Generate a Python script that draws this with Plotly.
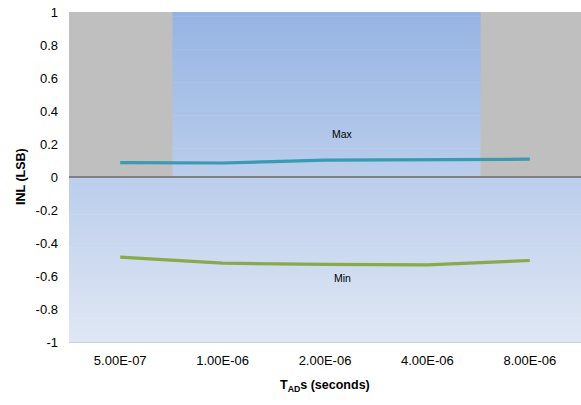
import plotly.graph_objects as go

categories = ["5.00E-07", "1.00E-06", "2.00E-06", "4.00E-06", "8.00E-06"]
max_vals = [0.087, 0.085, 0.102, 0.105, 0.108]
min_vals = [-0.486, -0.522, -0.530, -0.532, -0.506]
y_tickvals = [-1, -0.8, -0.6, -0.4, -0.2, 0, 0.2, 0.4, 0.6, 0.8, 1]
y_ticktext = ["-1", "-0.8", "-0.6", "-0.4", "-0.2", "0", "0.2", "0.4", "0.6", "0.8", "1"]

FONT = "Liberation Sans, Arial, sans-serif"

fig = go.Figure()
fig.add_trace(go.Scatter(x=categories, y=max_vals, mode="lines", name="Max",
                         line=dict(color="#3a9ab2", width=3.2), showlegend=False))
fig.add_trace(go.Scatter(x=categories, y=min_vals, mode="lines", name="Min",
                         line=dict(color="#89aa4a", width=3.2), showlegend=False))

shapes = []
# vertical gradient background of plot area
top = (150, 180, 227)
bot = (223, 231, 244)
n = 80
for i in range(n):
    t = i / (n - 1)
    c = tuple(round(top[k] + (bot[k] - top[k]) * t) for k in range(3))
    y1 = 1 - i / n
    y0 = 1 - (i + 1) / n
    shapes.append(dict(type="rect", xref="paper", yref="paper", x0=0, x1=1,
                       y0=max(0, y0 - 0.002), y1=y1, fillcolor="rgb(%d,%d,%d)" % c,
                       line=dict(width=0), layer="below"))
# grey bands
shapes.append(dict(type="rect", xref="x", yref="y", x0=-0.5, x1=0.51, y0=0, y1=1,
                   fillcolor="#bfbfbf", line=dict(width=0), layer="below"))
shapes.append(dict(type="rect", xref="x", yref="y", x0=3.52, x1=4.5, y0=0, y1=1,
                   fillcolor="#bfbfbf", line=dict(width=0), layer="below"))

fig.update_layout(
    width=581, height=405,
    margin=dict(l=69, r=0, t=12, b=63),
    paper_bgcolor="white", plot_bgcolor="white",
    font=dict(family=FONT, size=13, color="black"),
    shapes=shapes,
    annotations=[
        dict(x=2.17, y=0.26, xref="x", yref="y", text="Max", showarrow=False,
             font=dict(size=10.5, family=FONT, color="black")),
        dict(x=2.17, y=-0.61, xref="x", yref="y", text="Min", showarrow=False,
             font=dict(size=10.5, family=FONT, color="black")),
        dict(x=0.5, y=0, xref="paper", yref="paper", yshift=-44, yanchor="middle",
             xanchor="center", text="<b>T<sub>AD</sub>s (seconds)</b>", showarrow=False,
             font=dict(size=12.5, family=FONT, color="black")),
        dict(x=0, y=0.5, xref="paper", yref="paper", xshift=-48, xanchor="center",
             yanchor="middle", textangle=-90, text="<b>INL (LSB)</b>", showarrow=False,
             font=dict(size=12.5, family=FONT, color="black")),
    ],
    xaxis=dict(type="category", range=[-0.5, 4.5], showgrid=False, ticks="",
               automargin=False,
               showline=True, linecolor="#c9d1de", linewidth=1,
               tickfont=dict(size=13), ticklabelstandoff=6),
    yaxis=dict(range=[-1, 1], tickvals=y_tickvals, ticktext=y_ticktext,
               showgrid=False, ticks="", showline=False, automargin=False,
               zeroline=True, zerolinecolor="#808080", zerolinewidth=2,
               tickfont=dict(size=13), ticklabelstandoff=10),
)

# remove the browser's default 8px page margin so the figure sits at (0, 0)
fig.write_html("out.html", config={"displayModeBar": False},
               post_script="document.body.style.margin='0px';document.body.style.overflow='hidden';")
